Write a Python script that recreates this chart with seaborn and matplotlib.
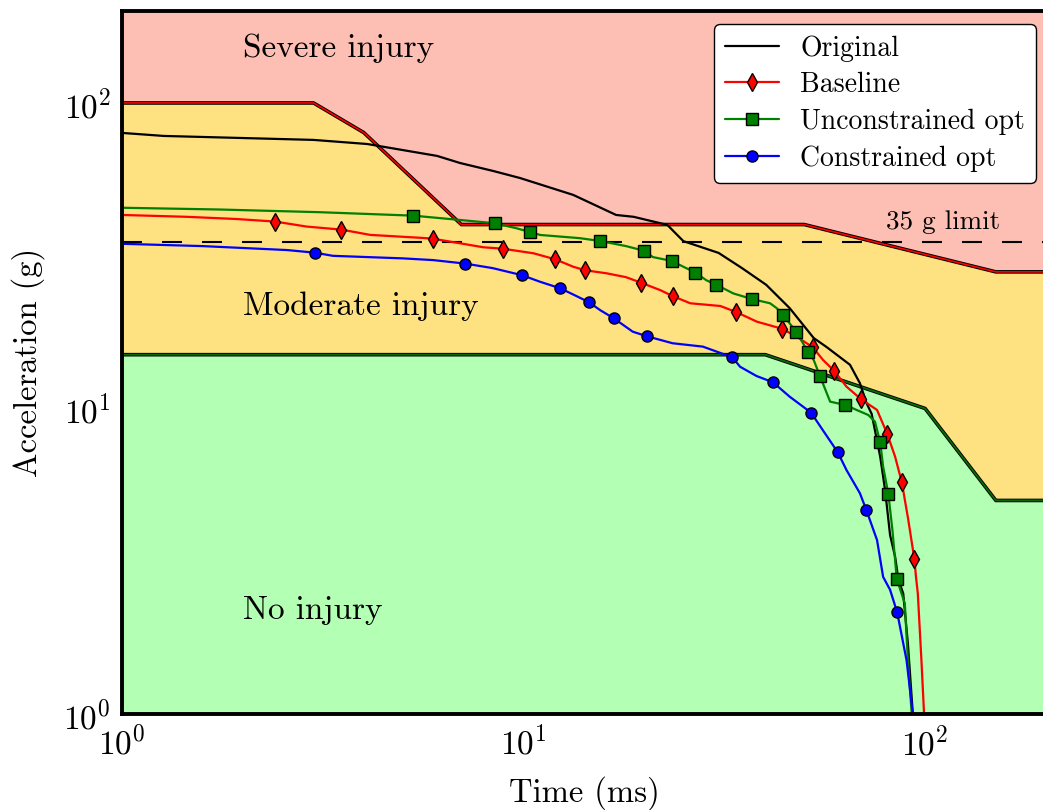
import numpy as np
import pandas as pd
import matplotlib
matplotlib.use("Agg")
import matplotlib.pyplot as plt
import seaborn as sns

# ---- injury-zone boundaries (time in ms, acceleration in g) ----
upper_t = [1, 3, 4, 7, 50, 150, 200]
upper_a = [100, 100, 80, 40, 40, 28, 28]
lower_t = [1, 40, 100, 150, 200]
lower_a = [15, 15, 10, 5, 5]
limit_g = 35

# ---- Original ----
orig_t = [1.0, 1.27, 3.0, 4.08, 6.09, 6.95, 8.4, 9.8, 13.3, 17.0, 18.8, 22.8, 25.0,
          30.6, 35.0, 40.2, 46.0, 52.8, 56.8, 65.0, 68.8, 71.5, 73.6, 77.3, 79.5,
          81.8, 84.2, 85.8, 88.2, 90.6, 93.2, 93.6]
orig_a = [79.8, 78.0, 75.7, 73.4, 67.1, 63.6, 59.9, 56.8, 50.0, 43.0, 42.4, 39.9, 35.3,
          32.3, 28.8, 25.4, 21.3, 17.0, 15.9, 13.9, 12.1, 10.4, 9.6, 6.95, 5.4,
          3.85, 3.27, 2.75, 2.48, 1.70, 1.0, 0.9]

# ---- Baseline ----
base_t = [1.0, 1.45, 1.93, 2.88, 4.15, 5.53, 7.94, 10.6, 13.3, 16.1, 18.0, 21.9, 26.0,
          30.9, 38.1, 47.9, 55.7, 63.7, 75.9, 84.2, 90.8, 94.9, 95.9, 97.9, 99.4, 99.6]
base_a = [43.0, 42.4, 41.7, 39.4, 37.0, 36.2, 33.7, 32.2, 29.1, 27.7, 26.9, 24.4, 22.1,
          21.65, 19.24, 17.18, 14.41, 11.79, 9.89, 6.95, 4.32, 2.81, 2.48, 1.50, 1.0, 0.9]
base_mt = [2.41, 3.52, 5.94, 8.87, 12.0, 14.26, 19.62, 23.5, 33.8, 43.95, 52.5, 59.4,
           69.3, 80.5, 87.5, 94.0]
base_ma = [40.9, 38.5, 35.97, 33.35, 30.77, 28.33, 25.8, 23.34, 20.7, 18.25, 15.86, 13.27,
           10.72, 8.25, 5.73, 3.22]

# ---- Unconstrained optimum ----
unc_t = [1.0, 1.75, 3.11, 6.95, 9.6, 11.0, 13.8, 18.0, 21.0, 25.0, 28.5, 33.3, 41.1,
         42.7, 52.8, 58.0, 72.2, 75.0, 78.6, 82.9, 89.0, 90.6, 92.6, 92.9]
unc_a = [45.4, 44.8, 43.9, 41.4, 38.9, 36.98, 36.1, 34.0, 31.3, 29.1, 26.3, 23.8, 22.1,
         21.3, 14.4, 10.53, 9.52, 9.06, 6.45, 4.0, 2.30, 1.50, 1.0, 0.9]
unc_mt = [5.32, 8.47, 10.38, 15.5, 19.93, 23.4, 26.8, 30.2, 37.1, 44.2, 47.8, 51.2,
          54.7, 63.2, 77.3, 81.0, 85.0]
unc_ma = [42.77, 40.4, 37.8, 35.35, 32.85, 30.4, 27.85, 25.4, 22.8, 20.3, 17.8, 15.26,
          12.78, 10.27, 7.75, 5.24, 2.77]

# ---- Constrained optimum ----
con_t = [1.0, 1.59, 2.58, 3.35, 5.0, 5.95, 8.38, 10.98, 13.3, 15.5, 18.7, 23.5, 27.96,
         30.9, 34.6, 38.0, 46.0, 55.6, 63.7, 68.8, 75.9, 78.6, 81.8, 89.9, 93.2, 93.5]
con_a = [34.6, 34.0, 33.0, 31.6, 31.0, 30.6, 28.8, 26.0, 23.6, 21.0, 17.84, 16.35, 15.94,
         15.2, 13.7, 12.78, 10.93, 8.5, 6.29, 5.28, 3.71, 2.81, 2.55, 1.50, 1.0, 0.9]
con_mt = [3.02, 7.16, 9.92, 12.33, 14.56, 16.77, 20.3, 33.1, 41.8, 52.0, 60.6, 71.4, 85.2]
con_ma = [32.36, 29.8, 27.3, 24.75, 22.27, 19.74, 17.23, 14.72, 12.18, 9.69, 7.19, 4.65, 2.15]


def merged(t, a, mt=None, ma=None):
    """Merge curve samples with marker samples; return frame and marker indices."""
    rows = [(x, y, False) for x, y in zip(t, a)]
    if mt is not None:
        rows += [(x, y, True) for x, y in zip(mt, ma)]
    df = pd.DataFrame(rows, columns=["t", "a", "mark"]).sort_values("t").reset_index(drop=True)
    return df, list(np.flatnonzero(df["mark"].to_numpy()))


sns.set_style("white")
plt.rcParams["font.family"] = ["cmr10"]
plt.rcParams["mathtext.fontset"] = "cm"
plt.rcParams["axes.formatter.use_mathtext"] = True
plt.rcParams["axes.unicode_minus"] = False
for key in ("text.color", "axes.labelcolor", "xtick.color", "ytick.color"):
    plt.rcParams[key] = "black"

W, H = 1043, 810
fig = plt.figure(figsize=(W / 100, H / 100), dpi=100)
ax = fig.add_axes([122 / W, 96 / H, (1046 - 122) / W, 703 / H])
ax.set_xscale("log")
ax.set_yscale("log")
ax.set_xlim(1, 200)
ax.set_ylim(1, 200)

# zone fills
ut = np.array(upper_t, float)
ua = np.array(upper_a, float)
lt = np.array(lower_t, float)
la = np.array(lower_a, float)
ax.fill_between(ut, ua, 300, color="#fdbfb3", lw=0, zorder=0)
ax.fill_between(ut, np.interp(np.log(ut), np.log(lt), la), ua, color="#fee181", lw=0, zorder=0)
ax.fill_between(lt, 0.5, la, color="#b3ffb3", lw=0, zorder=0)

# zone boundaries: dark outline with coloured core
ax.plot(ut, ua, color="black", lw=2.6, zorder=1, solid_capstyle="butt")
ax.plot(ut, ua, color="red", lw=1.2, zorder=1.1)
ax.plot(lt, la, color="black", lw=2.6, zorder=1, solid_capstyle="butt")
ax.plot(lt, la, color="#0a6a0a", lw=1.3, zorder=1.1)

# 35 g limit
ax.axhline(limit_g, color="black", lw=1.5, dashes=(9.6, 9.6), zorder=1.2)
ax.text(80, 37.2, "35 g limit", fontsize=19.5, ha="left", va="bottom", zorder=3)

# zone labels
ax.text(2.0, 151, "Severe injury", fontsize=24, va="center", ha="left", zorder=3)
ax.text(2.0, 21.6, "Moderate injury", fontsize=24, va="center", ha="left", zorder=3)
ax.text(2.0, 2.19, "No injury", fontsize=24, va="center", ha="left", zorder=3)

# curves
df, _ = merged(orig_t, orig_a)
sns.lineplot(data=df, x="t", y="a", ax=ax, estimator=None, sort=False,
             color="black", lw=1.6, label="Original", zorder=4)

series = [
    (base_t, base_a, base_mt, base_ma, "red", "d", "Baseline", 9.0),
    (unc_t, unc_a, unc_mt, unc_ma, "green", "s", "Unconstrained opt", 8.0),
    (con_t, con_a, con_mt, con_ma, "blue", "o", "Constrained opt", 8.0),
]
for t, a, mt, ma, col, mk, lab, ms in series:
    df, idx = merged(t, a, mt, ma)
    sns.lineplot(data=df, x="t", y="a", ax=ax, estimator=None, sort=False,
                 color=col, lw=1.6, marker=mk, markersize=ms, markevery=idx,
                 markerfacecolor=col, markeredgecolor="black", markeredgewidth=1.0,
                 label=lab, zorder=5)

leg = ax.legend(loc="upper right", fontsize=20, frameon=True, fancybox=True,
                edgecolor="black", framealpha=1.0, handlelength=1.95,
                handletextpad=0.75, bbox_to_anchor=(1036 / W, 1 - 24 / H),
                bbox_transform=fig.transFigure, borderaxespad=0.0,
                labelspacing=0.37, borderpad=0.4)
leg.get_frame().set_linewidth(1.0)
leg.set_zorder(10)

for s in ax.spines.values():
    s.set_visible(True)
    s.set_color("black")
    s.set_linewidth(2.8)
    s.set_zorder(6)

ax.tick_params(which="both", length=0, labelsize=24, pad=8)
ax.minorticks_off()
ax.set_xticks([1, 10, 100])
ax.set_yticks([1, 10, 100])
ax.set_xlabel("Time (ms)", fontsize=23.5, labelpad=11)
ax.set_ylabel("Acceleration (g)", fontsize=23.5, labelpad=13)

fig.savefig("out.png", dpi=100)
